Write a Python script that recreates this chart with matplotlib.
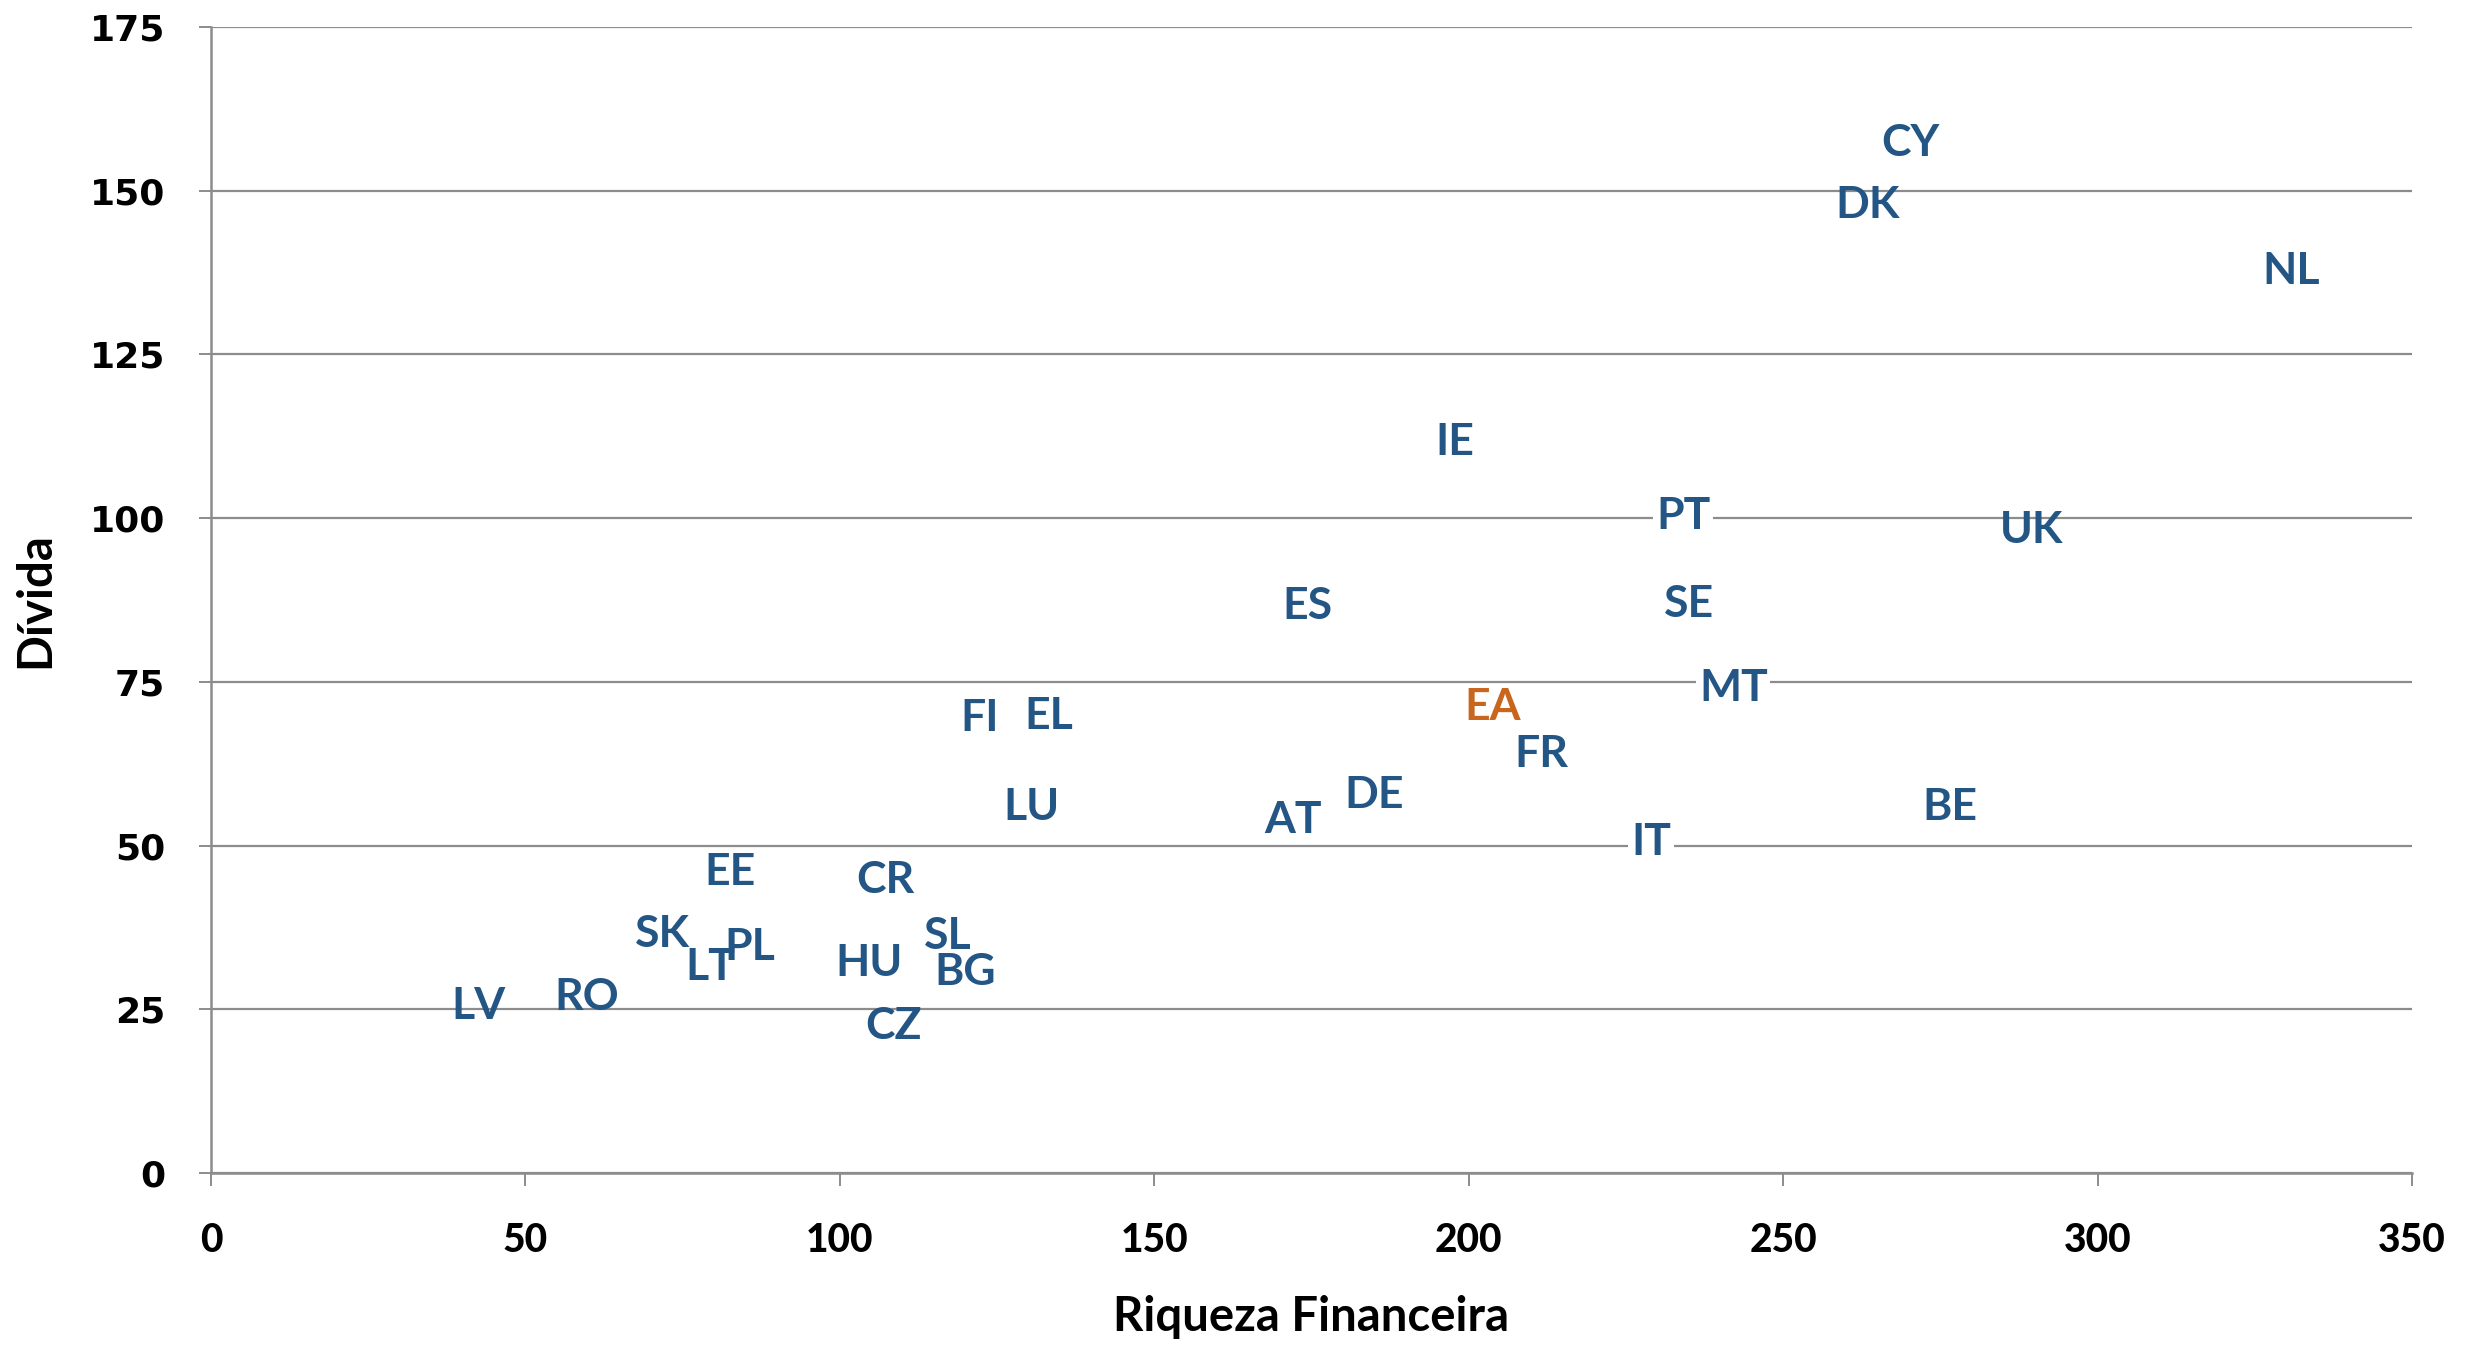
import matplotlib.pyplot as plt

# country codes and values (financial wealth vs debt, % of income)
countries = ["CY", "DK", "NL", "IE", "PT", "UK", "ES", "SE", "MT", "EA",
             "FI", "EL", "FR", "DE", "LU", "BE", "AT", "IT", "EE", "CR",
             "SK", "SL", "PL", "LT", "HU", "BG", "RO", "LV", "CZ"]
riqueza = [270.3, 263.5, 330.8, 197.8, 234.1, 289.5, 174.3, 235.1, 242.1, 203.8,
           122.2, 133.3, 211.6, 184.9, 130.5, 276.6, 172.1, 229.0, 82.6, 107.3,
           71.8, 117.2, 85.7, 79.4, 104.6, 119.9, 59.7, 42.6, 108.6]
divida = [157.8, 148.4, 138.2, 112.1, 100.9, 98.8, 87.1, 87.4, 74.6, 71.7,
          70.0, 70.4, 64.6, 58.3, 56.4, 56.4, 54.5, 51.1, 46.5, 45.3,
          37.0, 36.8, 35.1, 32.0, 32.7, 31.2, 27.4, 26.1, 23.0]

# labels drawn on a white box (they cut the gridline in the original)
boxed = ["PT", "MT", "IT"]

x_ticks = [0, 50, 100, 150, 200, 250, 300, 350]
y_ticks = [0, 25, 50, 75, 100, 125, 150, 175]

blue = "#235684"
orange = "#C8661E"
grid_col = "#8c8c8c"

plt.rcParams['font.family'] = ['Lato', 'DejaVu Sans']

fig = plt.figure(figsize=(24.85, 13.47), dpi=100)
ax = fig.add_axes([0.0849, 0.129, 0.8857, 0.851])

ax.set_xlim(0, 350)
ax.set_ylim(0, 175)
ax.set_xticks(x_ticks)
ax.set_yticks(y_ticks)

ax.grid(axis='y', color=grid_col, linewidth=1.6, zorder=1)
ax.set_axisbelow(True)

for s in ['top', 'right']:
    ax.spines[s].set_visible(False)
for s in ['left', 'bottom']:
    ax.spines[s].set_color(grid_col)
    ax.spines[s].set_linewidth(1.8)

ax.tick_params(axis='both', direction='out', length=9, width=1.4,
               color=grid_col, labelsize=28)
ax.tick_params(axis='y', pad=24)
ax.tick_params(axis='x', pad=26)
for lab in ax.get_xticklabels():
    lab.set_fontweight('black')
# y tick labels look wider in the original
for lab in ax.get_yticklabels():
    lab.set_family('DejaVu Sans')
    lab.set_fontweight('bold')
    lab.set_fontsize(26)

for name, xv, yv in zip(countries, riqueza, divida):
    col = orange if name == "EA" else blue
    box = None
    if name in boxed:
        box = dict(facecolor='white', edgecolor='none', pad=2)
    ax.annotate(name, (xv, yv), xytext=(0, -2.5), textcoords='offset points',
                color=col, fontsize=32, fontweight='bold',
                ha='center', va='center', bbox=box, zorder=3)

ax.set_xlabel("Riqueza Financeira", fontsize=34, fontweight='bold', labelpad=26)
ax.set_ylabel("Dívida", fontsize=34, fontweight='bold')
ax.yaxis.set_label_coords(-0.07, 0.5)

fig.savefig("out.png", dpi=100, facecolor='white')
